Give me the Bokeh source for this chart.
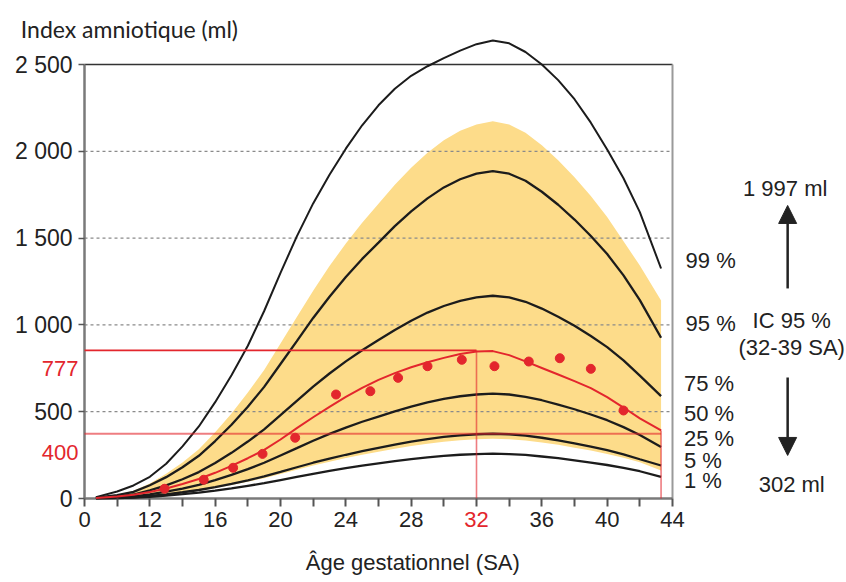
from bokeh.plotting import figure
from bokeh.models import Range1d, FixedTicker, Label, Arrow, NormalHead
from bokeh.embed import file_html
from bokeh.resources import INLINE

# ---------------- data ----------------
WEEKS = [8.7, 10, 11, 12, 13, 14, 15, 16, 17, 18, 19, 20, 21, 22, 23, 24, 25, 26,
         27, 28, 29, 30, 31, 32, 33, 34, 35, 36, 37, 38, 39, 40, 41, 42, 43.3]

CURVE_99 = [8, 40, 75, 125, 200, 300, 415, 555, 710, 880, 1080, 1300, 1510, 1700, 1865,
            2015, 2150, 2265, 2360, 2435, 2490, 2537, 2580, 2617, 2638, 2622, 2572, 2500,
            2410, 2300, 2165, 2010, 1845, 1650, 1325]
CURVE_95 = [5, 19, 38, 76, 123, 180, 246, 331, 425, 529, 643, 775, 907, 1040, 1162, 1276,
            1380, 1474, 1569, 1654, 1729, 1792, 1839, 1871, 1886, 1871, 1830, 1767, 1692,
            1607, 1512, 1408, 1285, 1143, 926]
CURVE_75 = [4, 12, 23, 47, 76, 111, 152, 205, 263, 328, 398, 480, 562, 644, 720, 790, 854,
            913, 971, 1024, 1071, 1109, 1138, 1158, 1168, 1158, 1133, 1094, 1047, 995, 936,
            872, 796, 708, 590]
CURVE_50 = [3, 6, 12, 24, 39, 57, 79, 106, 136, 169, 206, 248, 290, 333, 372, 408, 442, 472,
            502, 529, 554, 574, 589, 599, 604, 599, 586, 566, 541, 514, 484, 451, 411, 366, 296]
CURVE_25 = [2, 4, 7, 15, 24, 36, 49, 65, 84, 105, 127, 153, 180, 206, 230, 252, 273, 292,
            310, 327, 342, 355, 364, 370, 373, 370, 362, 350, 335, 318, 299, 279, 254, 226, 190]
CURVE_1 = [1, 3, 5, 10, 17, 25, 34, 45, 58, 73, 88, 106, 124, 142, 159, 175, 189, 202, 215,
           227, 237, 246, 252, 256, 258, 256, 251, 242, 232, 220, 207, 193, 176, 157, 124]
BAND_UPPER = [6, 22, 44, 87, 142, 207, 283, 381, 490, 610, 740, 893, 1045, 1197, 1339, 1469,
              1589, 1698, 1807, 1905, 1992, 2064, 2118, 2155, 2173, 2155, 2107, 2035, 1948,
              1850, 1742, 1622, 1482, 1342, 1140]
BAND_LOWER = [1, 3, 7, 14, 22, 33, 45, 60, 78, 97, 117, 141, 166, 190, 212, 233, 252, 269,
              286, 302, 316, 327, 336, 342, 344, 342, 334, 323, 309, 293, 276, 257, 235, 209, 162]
PATIENT_FIT = [3, 12, 22, 38, 58, 84, 112, 148, 188, 232, 280, 340, 405, 468, 528, 585, 637,
               683, 722, 756, 785, 810, 832, 847, 849, 826, 790, 752, 714, 676, 636, 584, 524,
               462, 392]

DOT_WEEKS = [12.9, 15.3, 17.1, 18.9, 20.9, 23.4, 25.5, 27.2, 29.0, 31.1, 33.1, 35.2, 37.1, 39.0, 41.0]
DOT_VALUES = [56, 108, 177, 257, 350, 599, 618, 695, 762, 799, 762, 789, 808, 747, 507]

PEAK_WEEK = 32
PEAK_LINE_VALUE = 853
END_WEEK = 43.3
END_LINE_VALUE = 373
RED_LABELS = ["777", "400"]

Y_TICKS = [0, 500, 1000, 1500, 2000, 2500]
Y_TICK_LABELS = ["0", "500", "1 000", "1 500", "2 000", "2 500"]
GRID_VALUES = [500, 1000, 1500, 2000]
X_TICKS = [8, 12, 16, 20, 24, 28, 32, 36, 40, 44]
X_TICK_LABELS = ["0", "12", "16", "20", "24", "28", "32", "36", "40", "44"]
X_MINOR_TICKS = [10, 14, 18, 22, 26, 30, 34, 38, 42]

PERCENT_LABELS = ["99 %", "95 %", "75 %", "50 %", "25 %", "5 %", "1 %"]
Y_TITLE = "Index amniotique (ml)"
X_TITLE = "Âge gestationnel (SA)"
CI_UPPER_TEXT = "1 997 ml"
CI_LOWER_TEXT = "302 ml"
CI_TEXT = ["IC 95 %", "(32-39 SA)"]

# ---------------- styles / layout ----------------
FONT = "Liberation Sans"
FS = "22px"
BLACK = "#1c1c1c"
RED = "#e3262d"
YELLOW = "#fddc8a"
GRID = "#8a8a8a"
AXIS = "#7a7a7a"

W, H = 846, 578
PX_PER_WEEK = 588 / 36.0
PX_PER_ML = 434 / 2500.0
X0_PX, Y0_PX = 84, 498          # pixel position of week 8 / 0 ml
x_start = X_TICKS[0] - X0_PX / PX_PER_WEEK
x_end = X_TICKS[0] + (W - X0_PX) / PX_PER_WEEK
y_start = -(H - Y0_PX) / PX_PER_ML
y_end = Y0_PX / PX_PER_ML

p = figure(width=W, height=H, x_range=Range1d(x_start, x_end), y_range=Range1d(y_start, y_end),
           output_backend="svg", toolbar_location=None, title=None,
           min_border=0, min_border_left=0, min_border_right=0, min_border_top=0, min_border_bottom=0)
p.outline_line_color = None
p.xgrid.visible = False
p.ygrid.visible = False
p.background_fill_color = "white"
p.border_fill_color = "white"

# x axis drawn at y = 0 inside the frame
xa = p.xaxis[0]
xa.fixed_location = 0
xa.ticker = FixedTicker(ticks=X_TICKS, minor_ticks=X_MINOR_TICKS)
xa.major_label_overrides = {t: ("" if t == PEAK_WEEK else lab) for t, lab in zip(X_TICKS, X_TICK_LABELS)}
xa.axis_line_color = None
xa.major_tick_in = 0
xa.major_tick_out = 8
xa.minor_tick_in = 0
xa.minor_tick_out = 8
xa.major_tick_line_color = "#555"
xa.minor_tick_line_color = "#555"
xa.major_tick_line_width = 2
xa.minor_tick_line_width = 2
xa.major_label_text_font = FONT
xa.major_label_text_font_size = FS
xa.major_label_text_color = "#222"
xa.major_label_standoff = 5

# y axis at week 8 : ticks only, labels as annotations (baseline on the tick)
ya = p.yaxis[0]
ya.fixed_location = X_TICKS[0]
ya.ticker = FixedTicker(ticks=Y_TICKS, minor_ticks=[])
ya.major_label_overrides = {t: "" for t in Y_TICKS}
ya.axis_line_color = None
ya.major_tick_in = 0
ya.major_tick_out = 6
ya.major_tick_line_color = "#555"
ya.major_tick_line_width = 1.5
ya.minor_tick_line_color = None

# yellow band
p.varea(x=WEEKS, y1=BAND_LOWER, y2=BAND_UPPER, fill_color=YELLOW, fill_alpha=1.0)

# dashed grid over the band
for g in GRID_VALUES:
    p.line(x=[X_TICKS[0], X_TICKS[-1]], y=[g, g], line_color=GRID, line_width=1.2, line_dash="3 3")

# frame lines
p.line(x=[X_TICKS[0], X_TICKS[-1]], y=[Y_TICKS[-1], Y_TICKS[-1]], line_color="#333", line_width=1.5)
p.line(x=[X_TICKS[0], X_TICKS[0]], y=[Y_TICKS[0], Y_TICKS[-1]], line_color=AXIS, line_width=2.5)
p.line(x=[X_TICKS[-1], X_TICKS[-1]], y=[Y_TICKS[0], Y_TICKS[-1]], line_color="#9a9a9a", line_width=2)
p.line(x=[X_TICKS[0], X_TICKS[-1]], y=[Y_TICKS[0], Y_TICKS[0]], line_color=AXIS, line_width=2.5)

# percentile curves
p.line(x=WEEKS, y=CURVE_99, line_color=BLACK, line_width=2)
for c in (CURVE_95, CURVE_75, CURVE_50, CURVE_25, CURVE_1):
    p.line(x=WEEKS, y=c, line_color=BLACK, line_width=2.3)

# red reference lines
p.line(x=[X_TICKS[0], PEAK_WEEK], y=[PEAK_LINE_VALUE, PEAK_LINE_VALUE], line_color=RED, line_width=1.6)
p.line(x=[PEAK_WEEK, PEAK_WEEK], y=[0, PEAK_LINE_VALUE], line_color=RED, line_alpha=0.6, line_width=1.6)
p.line(x=[X_TICKS[0], END_WEEK], y=[END_LINE_VALUE, END_LINE_VALUE], line_color=RED, line_alpha=0.6, line_width=2.2)
p.line(x=[END_WEEK, END_WEEK], y=[0, PATIENT_FIT[-1]], line_color=RED, line_alpha=0.6, line_width=1.6)

# patient curve and points
p.line(x=WEEKS, y=PATIENT_FIT, line_color=RED, line_width=2)
p.scatter(x=DOT_WEEKS, y=DOT_VALUES, size=9, fill_color=RED, line_color=RED)

# ---------------- texts ----------------
def lab(x, y, text, color="#222", align="left", baseline="middle", size=FS, font=FONT, xo=0, yo=0):
    p.add_layout(Label(x=x, y=y, text=text, text_color=color, text_align=align,
                       text_baseline=baseline, text_font=font, text_font_size=size,
                       x_offset=xo, y_offset=yo))

for t, s in zip(Y_TICKS, Y_TICK_LABELS):
    lab(X_TICKS[0], t, s, align="right", baseline="alphabetic", xo=-12, size="23px")

lab(X_TICKS[0], PEAK_LINE_VALUE, RED_LABELS[0], color=RED, align="right", baseline="alphabetic", xo=-6, yo=-18)
lab(X_TICKS[0], END_LINE_VALUE, RED_LABELS[1], color=RED, align="right", baseline="alphabetic", xo=-6, yo=-19)
lab(PEAK_WEEK, 0, X_TICK_LABELS[X_TICKS.index(PEAK_WEEK)], color=RED, align="center", baseline="top", yo=-13)

lab(4.1, 2707, Y_TITLE, align="left", baseline="alphabetic", font="Lato", size="23px")
lab(28.1, -369, X_TITLE, align="center", baseline="middle")

pct_y = [1371, 1008, 662, 489, 346, 219, 104]
pct_x = [44.8, 44.8, 44.7, 44.7, 44.7, 44.7, 44.7]
for x, y, t in zip(pct_x, pct_y, PERCENT_LABELS):
    lab(x, y, t)

lab(50.9, 1786, CI_UPPER_TEXT, align="center")
lab(51.3, 1025, CI_TEXT[0], align="center")
lab(51.3, 870, CI_TEXT[1], align="center")
lab(51.3, 81, CI_LOWER_TEXT, align="center")

p.add_layout(Arrow(end=NormalHead(size=18, fill_color="#222", line_color="#222"),
                   x_start=51.05, y_start=1210, x_end=51.05, y_end=1688,
                   line_color="#222", line_width=2.5))
p.add_layout(Arrow(end=NormalHead(size=18, fill_color="#222", line_color="#222"),
                   x_start=51.05, y_start=697, x_end=51.05, y_end=248,
                   line_color="#222", line_width=2.5))

open("out.html", "w").write(file_html(p, INLINE))
